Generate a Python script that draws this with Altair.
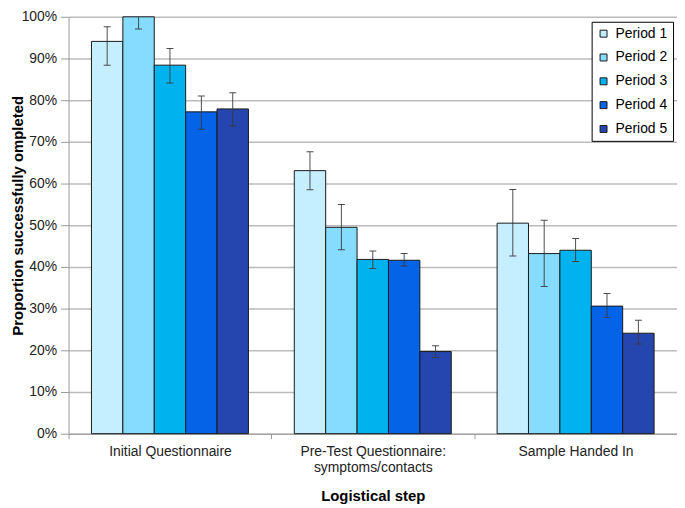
import altair as alt
import pandas as pd

steps = ["Initial Questionnaire", "Pre-Test Questionnaire: symptoms/contacts", "Sample Handed In"]
periods = ["Period 1", "Period 2", "Period 3", "Period 4", "Period 5"]
colors = ["#C5EEFE", "#85DCFE", "#00B3EF", "#0563E8", "#2546AE"]

# proportion completed per step, for each period
p1_val = [0.941, 0.631, 0.505]
p2_val = [1.000, 0.495, 0.432]
p3_val = [0.884, 0.418, 0.440]
p4_val = [0.772, 0.416, 0.306]
p5_val = [0.779, 0.197, 0.241]

p1_lo = [0.884, 0.585, 0.426]
p2_lo = [0.971, 0.441, 0.353]
p3_lo = [0.841, 0.396, 0.413]
p4_lo = [0.730, 0.402, 0.279]
p5_lo = [0.738, 0.183, 0.215]

p1_hi = [0.976, 0.676, 0.586]
p2_hi = [1.030, 0.550, 0.512]
p3_hi = [0.924, 0.438, 0.468]
p4_hi = [0.810, 0.432, 0.336]
p5_hi = [0.818, 0.211, 0.272]

vals = [p1_val, p2_val, p3_val, p4_val, p5_val]
los = [p1_lo, p2_lo, p3_lo, p4_lo, p5_lo]
his = [p1_hi, p2_hi, p3_hi, p4_hi, p5_hi]

rows = []
for pi, per in enumerate(periods):
    for si, st in enumerate(steps):
        rows.append({"step": st, "period": per, "value": vals[pi][si],
                     "lo": los[pi][si], "hi": his[pi][si]})
df = pd.DataFrame(rows)

FONT = "Liberation Sans"
YTITLE = "Proportion successfully ompleted"
yscale = alt.Scale(domain=[0, 1])

label_expr = "split(replace(datum.label, ': ', ':|'), '|')"

base = alt.Chart(df).encode(
    x=alt.X("step:N", sort=steps, title="Logistical step",
            scale=alt.Scale(paddingInner=0, paddingOuter=0),
            axis=alt.Axis(tickBand="extent", labelAngle=0, labelExpr=label_expr,
                          labelLimit=300, labelLineHeight=16, labelPadding=6,
                          tickSize=5, titleY=62, titleBaseline="middle")),
    xOffset=alt.XOffset("period:N", sort=periods,
                        scale=alt.Scale(paddingInner=0, paddingOuter=0.73)),
)

bars = base.mark_bar(stroke="#1a1a1a", strokeWidth=1).encode(
    y=alt.Y("value:Q", scale=yscale, title=YTITLE,
            axis=alt.Axis(format=".0%", values=[i / 10 for i in range(11)],
                          tickSize=8, labelPadding=4, titleX=-51, titleY=200,
                          titleBaseline="middle")),
    color=alt.Color("period:N", sort=periods,
                    scale=alt.Scale(domain=periods, range=colors),
                    legend=alt.Legend(title=None, orient="none", legendX=527, legendY=5,
                                      fillColor="white", strokeColor="black",
                                      padding=5, rowPadding=10, symbolType="square",
                                      symbolSize=49, symbolStrokeColor="#1a1a1a",
                                      symbolStrokeWidth=1, labelFontSize=14,
                                      labelOffset=5, labelColor="black",
                                      labelFont=FONT)),
)

err = base.mark_rule(color="#3a3a3a", opacity=0.9, strokeWidth=1, clip=True).encode(
    y=alt.Y("lo:Q", scale=yscale, title=YTITLE), y2="hi:Q")
cap_lo = base.mark_tick(color="#3a3a3a", opacity=0.9, size=7, thickness=1, clip=True).encode(
    y=alt.Y("lo:Q", scale=yscale, title=YTITLE))
cap_hi = base.mark_tick(color="#3a3a3a", opacity=0.9, size=7, thickness=1, clip=True).encode(
    y=alt.Y("hi:Q", scale=yscale, title=YTITLE))

chart = alt.layer(bars, err, cap_lo, cap_hi).properties(
    width=613, height=420,
    autosize=alt.AutoSizeParams(type="none"),
    padding={"left": 61, "top": 7, "right": 0, "bottom": 72},
).configure_view(stroke=None).configure_axis(
    labelFont=FONT, titleFont=FONT, labelFontSize=14, labelColor="#222222",
    titleFontSize=15, titleFontWeight="bold", titleColor="black",
    domainColor="#999999", tickColor="#999999", gridColor="#BBBBBB", gridWidth=1.5,
).configure_axisX(grid=False)

chart.save("out.html", embed_options={"renderer": "svg", "actions": False})
